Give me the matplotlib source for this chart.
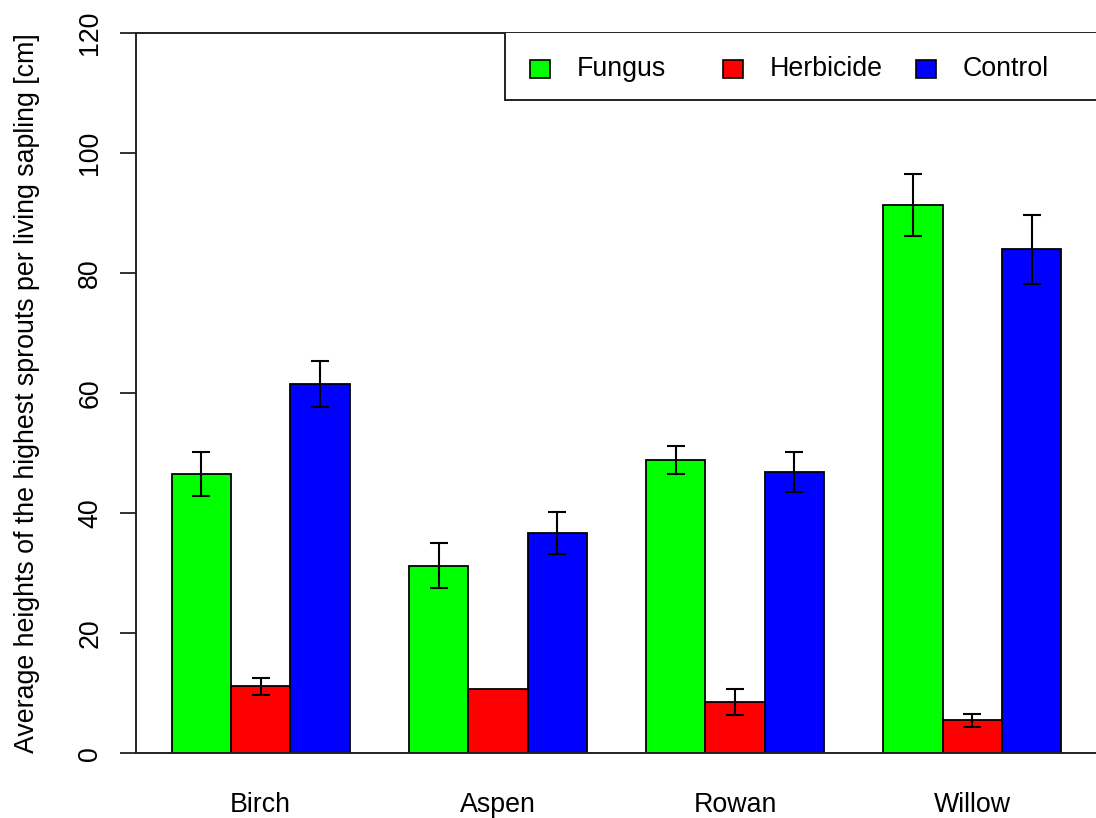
import numpy as np
import matplotlib
matplotlib.use("Agg")
import matplotlib.pyplot as plt
from matplotlib.patches import Rectangle

plt.rcParams['font.family'] = ['Liberation Sans', 'DejaVu Sans']

# mean heights and standard errors per species and treatment
species = ['Birch', 'Aspen', 'Rowan', 'Willow']
treatments = ['Fungus', 'Herbicide', 'Control']
colors = ['#00ff00', '#ff0000', '#0000ff']

fungus = [46.6, 31.3, 48.9, 91.4]
herbicide = [11.2, 10.8, 8.6, 5.5]
control = [61.6, 36.7, 46.9, 84.0]

fungus_se = [3.7, 3.8, 2.4, 5.1]
herbicide_se = [1.4, 0.0, 2.2, 1.1]
control_se = [3.8, 3.5, 3.3, 5.7]

means = [fungus, herbicide, control]
errors = [fungus_se, herbicide_se, control_se]

fs = 19.3

fig = plt.figure(figsize=(10.96, 8.18), dpi=100)
ax = fig.add_axes([136 / 1096, 64.7 / 818, 961 / 1096, 720 / 818])


def px(x, y):
    # figure pixel (from top-left) -> axes fraction
    return (x - 136) / 961, (753.3 - y) / 720


# grouped bars: one unit wide, one unit gap between groups (like barplot beside=TRUE)
groups = np.arange(len(species))
for k in range(3):
    x = 1.5 + 4 * groups + k
    ax.bar(x, means[k], width=1.0, color=colors[k], edgecolor='black',
           linewidth=1.3, zorder=2)
    err = np.array(errors[k])
    keep = err > 0
    ax.errorbar(x[keep], np.array(means[k])[keep], yerr=err[keep], fmt='none',
                ecolor='black', elinewidth=1.5, capsize=6.5, capthick=1.5, zorder=3)

ax.set_xlim(0.4, 16.6)
ax.set_ylim(0, 120)

ax.set_xticks(2.5 + 4 * groups)
ax.set_xticklabels(species)
ax.set_yticks(np.arange(0, 121, 20))
ax.set_yticklabels([str(v) for v in range(0, 121, 20)], rotation=90, va='center')

ax.tick_params(axis='x', length=0, pad=28, labelsize=fs)
ax.tick_params(axis='y', length=11.5, width=1.3, pad=12, labelsize=fs,
               color='#222222')

for side in ['left', 'top', 'bottom']:
    ax.spines[side].set_color('#222222')
    ax.spines[side].set_linewidth(1.4)
ax.spines['right'].set_visible(False)

ax.set_ylabel('Average heights of the highest sprouts per living sapling [cm]',
              fontsize=fs, labelpad=27)

# legend box running to the right edge of the plot, equal-width columns
bx, by = px(505, 100)
ax.add_patch(Rectangle((bx, by), 1.0, 1.0, transform=ax.transAxes,
                       facecolor='white', edgecolor='#222222', linewidth=1.4,
                       zorder=4, clip_on=True))
sq_w = 20 / 961
sq_h = 18 / 720
for i, (name, c) in enumerate(zip(treatments, colors)):
    x0, y0 = px(530 + 193 * i, 78)
    ax.add_patch(Rectangle((x0, y0), sq_w, sq_h, transform=ax.transAxes,
                           facecolor=c, edgecolor='black', linewidth=1.2,
                           zorder=5, clip_on=False))
    tx, ty = px(577 + 193 * i, 69)
    ax.text(tx, ty, name, transform=ax.transAxes, fontsize=fs,
            ha='left', va='center', zorder=6)

fig.savefig('out.png', dpi=100)
